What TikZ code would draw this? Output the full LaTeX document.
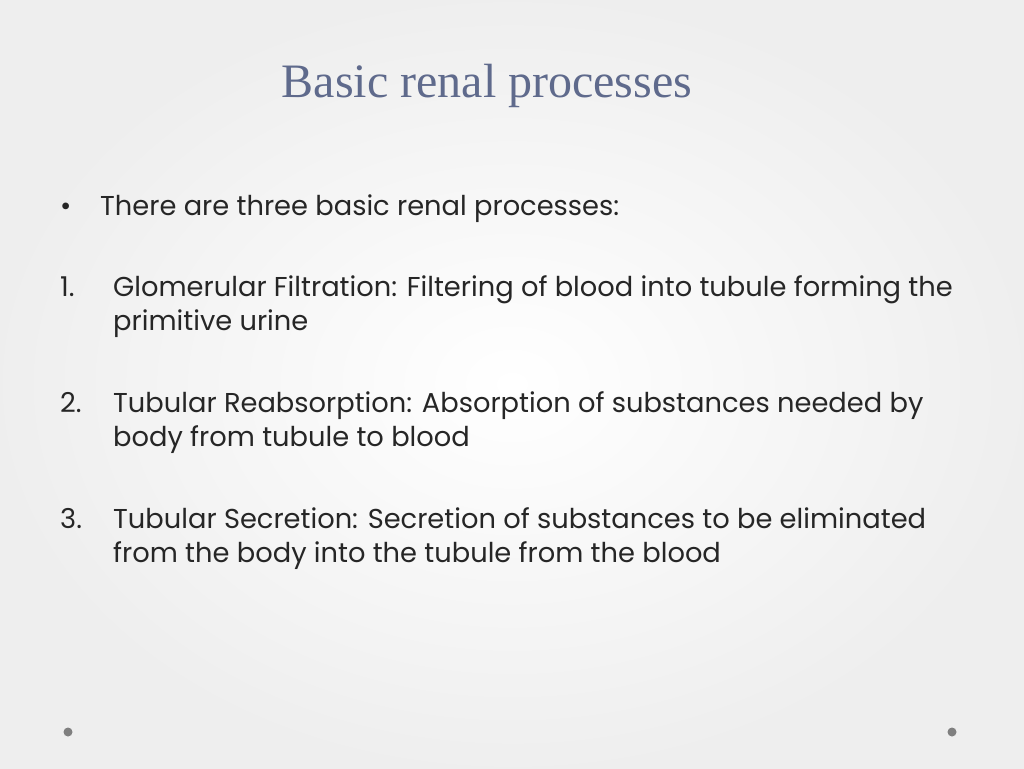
\documentclass[tikz,border=0pt]{standalone}
\usepackage{fontspec}
\setmainfont{Poppins}
\newfontfamily\titlefont{Liberation Serif}
\definecolor{titlec}{HTML}{5F6A8C}
\definecolor{bodyc}{HTML}{262626}
\definecolor{dotc}{HTML}{7F7F7F}
\begin{document}
\begin{tikzpicture}[x=1pt,y=-1pt,
  txt/.style={anchor=base west,inner sep=0pt,text=bodyc,font=\fontsize{27.3}{30}\selectfont},
  dotmark/.style={circle,fill=dotc,minimum size=9pt,inner sep=0pt}]
\shade[inner color=white,outer color=gray!13] (0,0) rectangle (1024,768);
\useasboundingbox (0,0) rectangle (1024,768);
\node[anchor=base,inner sep=0pt,text=titlec,font=\titlefont\fontsize{48}{54}\selectfont] (title) at (487,97) {Basic renal processes};
\node[txt] (b0) at (60,215) {\textbullet};
\node[txt] (t0) at (100,215) {There are three basic renal processes:};
\node[txt] (n1) at (60,296) {1.};
\node[txt] (t1a) at (113,296) {Glomerular Filtration: Filtering of blood into tubule forming the};
\node[txt] (t1b) at (113,330) {primitive urine};
\node[txt] (n2) at (60,412) {2.};
\node[txt] (t2a) at (113,412) {Tubular Reabsorption: Absorption of substances needed by};
\node[txt] (t2b) at (113,446) {body from tubule to blood};
\node[txt] (n3) at (60,528) {3.};
\node[txt] (t3a) at (113,528) {Tubular Secretion: Secretion of substances to be eliminated};
\node[txt] (t3b) at (113,562) {from the body into the tubule from the blood};
\node[dotmark] (d1) at (68,732) {};
\node[dotmark] (d2) at (952,732) {};
\end{tikzpicture}
\end{document}
